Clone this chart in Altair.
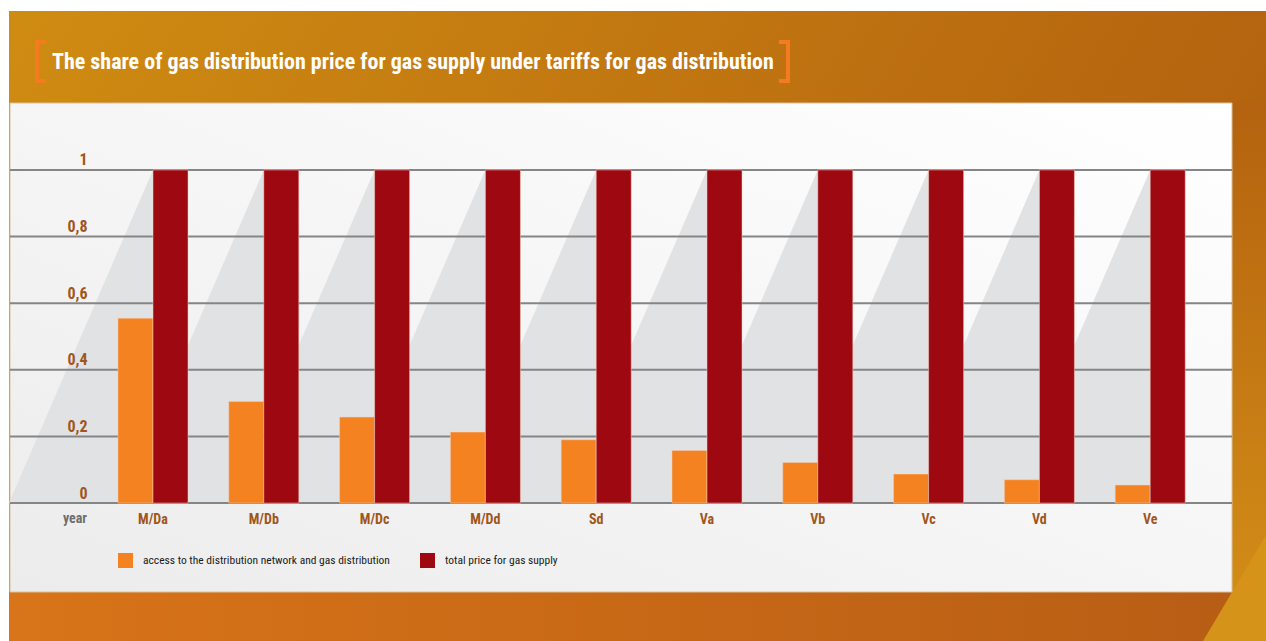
import altair as alt
import pandas as pd

categories = ["M/Da", "M/Db", "M/Dc", "M/Dd", "Sd", "Va", "Vb", "Vc", "Vd", "Ve"]
access_values = [0.555, 0.305, 0.258, 0.213, 0.19, 0.158, 0.122, 0.087, 0.07, 0.054]
total_values = [1, 1, 1, 1, 1, 1, 1, 1, 1, 1]
series_names = ["access to the distribution network and gas distribution", "total price for gas supply"]
series_colors = ["#F58220", "#9E0811"]
y_ticks = [0, 0.2, 0.4, 0.6, 0.8, 1]
title_text = "The share of gas distribution price for gas supply under tariffs for gas distribution"

FONT = "Roboto Condensed, Liberation Sans Narrow, DejaVu Sans Condensed, sans-serif"

rows = []
for c, a, t in zip(categories, access_values, total_values):
    rows.append({"cat": c, "series": series_names[0], "value": a})
    rows.append({"cat": c, "series": series_names[1], "value": t})
bars_df = pd.DataFrame(rows)
cat_df = pd.DataFrame({"cat": categories})
grid_df = pd.DataFrame({"v": y_ticks})
one = pd.DataFrame({"t": [title_text]})

W, H = 1222, 489

xscale = alt.Scale(domain=categories, range=[87.6, 1195.6], paddingInner=0.368, paddingOuter=0.184)
yscale = alt.Scale(domain=[-0.267, 1.201], nice=False, zero=False)

xaxis = alt.Axis(title=None, domain=False, ticks=False, grid=False, offset=-89, labelPadding=9,
                 labelBaseline="top", labelFont=FONT, labelFontSize=14, labelFontWeight="bold",
                 labelColor="#A0561A", labelAngle=0, zindex=1)
yaxis = alt.Axis(title=None, domain=False, ticks=False, grid=False, values=y_ticks, format=".1~f",
                 labelExpr="replace(datum.label, '.', ',')", labelPadding=-77, labelAlign="right",
                 labelBaseline="bottom", labelOffset=-2, labelFont=FONT, labelFontSize=16,
                 labelFontWeight="bold", labelColor="#A0561A", zindex=1)

def grad(stops, x1, y1, x2, y2):
    return alt.LinearGradient(gradient="linear",
                              stops=[alt.GradientStop(color=c, offset=o) for o, c in stops],
                              x1=x1, y1=y1, x2=x2, y2=y2)

# background frame
frame = alt.Chart(one).mark_rect(
    color=grad([(0, "#CF8C12"), (1, "#B3610F")], 0, 0, 1, 0.3)
).encode(x=alt.value(-1), x2=alt.value(1256), y=alt.value(-92), y2=alt.value(538))

bottom_band = alt.Chart(one).mark_rect(
    color=grad([(0, "#D87419"), (1, "#B75D14")], 0, 0, 1, 0)
).encode(x=alt.value(-1), x2=alt.value(1256), y=alt.value(H), y2=alt.value(538))

right_strip = alt.Chart(one).mark_rect(
    color=grad([(0, "#B4620F"), (1, "#D28C17")], 0, 0, 0, 1)
).encode(x=alt.value(W), x2=alt.value(1256), y=alt.value(0), y2=alt.value(H))

gold_tri = alt.Chart(one).mark_point(
    shape="M-0.55,1L0.5,1L0.5,-0.767Z", size=14400, filled=True, opacity=1,
    strokeWidth=0, color="#D5931A"
).encode(x=alt.value(1226), y=alt.value(478))

panel = alt.Chart(one).mark_rect(
    color=grad([(0, "#ECECEC"), (1, "#FFFFFF")], 0, 1, 1, 0),
    stroke="#D9C39A", strokeWidth=1
).encode(x=alt.value(0), x2=alt.value(W), y=alt.value(0), y2=alt.value(H))

shadows = alt.Chart(cat_df).mark_point(
    shape="M0,-1L0,1L-0.865,1Z", size=333 * 333, filled=True, opacity=1,
    strokeWidth=0, color="#E1E2E4"
).encode(
    x=alt.X("cat:N", scale=xscale, axis=xaxis, sort=categories),
    y=alt.Y(datum=0.5, scale=yscale, axis=yaxis),
)

grid = alt.Chart(grid_df).mark_rule(color="#858585", strokeWidth=2).encode(
    y=alt.Y("v:Q", scale=yscale, axis=yaxis),
    x=alt.value(0), x2=alt.value(W),
)

bars = alt.Chart(bars_df).mark_bar(stroke="#f0d0c0", strokeWidth=0.5).encode(
    x=alt.X("cat:N", scale=xscale, axis=xaxis, sort=categories),
    xOffset=alt.XOffset("series:N", sort=series_names, scale=alt.Scale(domain=series_names, paddingInner=0, paddingOuter=0)),
    y=alt.Y("value:Q", scale=yscale, axis=yaxis, stack=False),
    color=alt.Color("series:N", scale=alt.Scale(domain=series_names, range=series_colors),
                    legend=alt.Legend(title=None, orient="none", legendX=108, legendY=450,
                                      direction="horizontal", symbolType="square", symbolSize=225,
                                      symbolStrokeWidth=0, symbolOpacity=1, labelFont=FONT,
                                      labelFontSize=11.5, labelColor="#1A1A1A", labelOffset=10,
                                      labelLimit=600, columnPadding=30)),
)

year_txt = alt.Chart(pd.DataFrame({"t": ["year"]})).mark_text(
    align="right", baseline="top", font=FONT, fontSize=14, fontWeight="bold", color="#6E6E6E"
).encode(text="t:N", x=alt.value(77), y=alt.value(409))

title = alt.Chart(one).mark_text(
    align="left", baseline="middle", font=FONT, fontSize=22, fontWeight="bold", color="#FFFFFF"
).encode(text="t:N", x=alt.value(42), y=alt.value(-41))

BR = "#F47B20"
def seg(x, x2, y, y2):
    return alt.Chart(one).mark_rule(color=BR, strokeWidth=4, strokeCap="butt").encode(
        x=alt.value(x), x2=alt.value(x2), y=alt.value(y), y2=alt.value(y2))

brackets = [
    seg(27, 27, -63, -20),
    seg(25, 36, -61, -61),
    seg(25, 36, -22, -22),
    seg(778, 778, -63, -20),
    seg(769, 780, -61, -61),
    seg(769, 780, -22, -22),
]

chart = alt.layer(frame, bottom_band, right_strip, gold_tri, panel, shadows, grid, bars,
                  year_txt, title, *brackets).properties(
    width=W, height=H,
    autosize=alt.AutoSizeParams(type="none"),
    padding={"left": 10, "top": 103, "right": 34, "bottom": 49},
    background="#FFFFFF",
).configure_view(stroke=None)

chart.save("out.html", embed_options={"renderer": "svg", "actions": False})
